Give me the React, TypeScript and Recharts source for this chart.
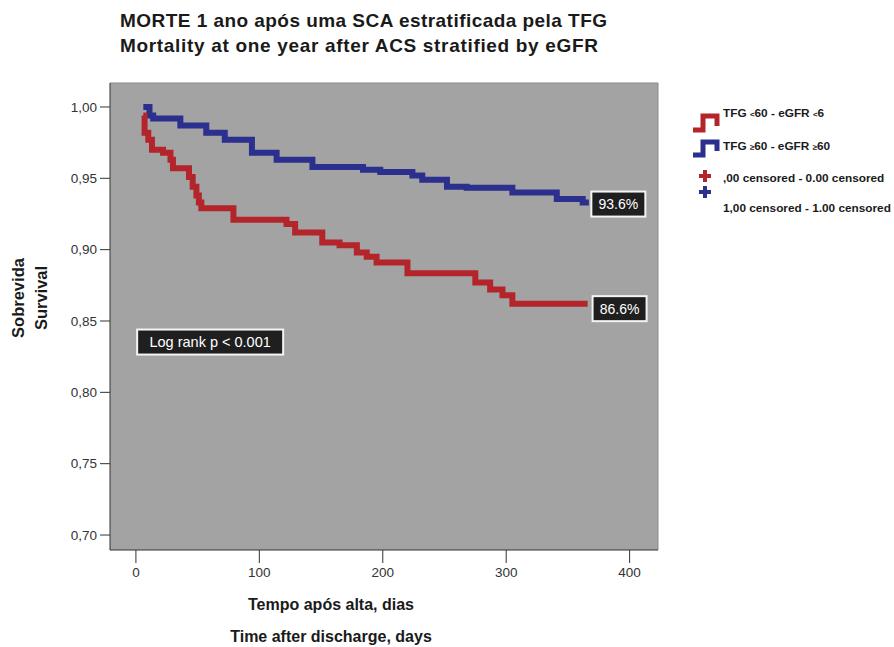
import React from 'react';
import { ComposedChart, Line, XAxis, YAxis, CartesianGrid, ReferenceDot, ReferenceLine } from 'recharts';

// Kaplan-Meier steps
const redDays = [6, 7, 10, 13, 22, 28, 30, 43, 46, 49, 51, 53, 79, 122, 129, 151, 165, 179, 187, 195, 220, 275, 287, 297, 305, 366];
const redSurv = [0.994, 0.982, 0.977, 0.970, 0.968, 0.963, 0.957, 0.951, 0.944, 0.938, 0.933, 0.929, 0.921, 0.918, 0.912, 0.905, 0.903, 0.898, 0.895, 0.891, 0.8835, 0.877, 0.872, 0.868, 0.862, 0.862];

const blueDays = [6, 11, 14, 36, 57, 72, 94, 114, 143, 184, 198, 224, 232, 252, 268, 305, 341, 362, 367];
const blueSurv = [1.0, 0.994, 0.992, 0.987, 0.982, 0.977, 0.968, 0.963, 0.958, 0.956, 0.9544, 0.952, 0.949, 0.944, 0.9433, 0.940, 0.9355, 0.933, 0.933];

const xTicks = [0, 100, 200, 300, 400];
const yTicks = [0.7, 0.75, 0.8, 0.85, 0.9, 0.95, 1.0];

const redData = redDays.map((t, i) => ({ t, s: redSurv[i] }));
const blueData = blueDays.map((t, i) => ({ t, s: blueSurv[i] }));

const RED = '#b3252b';
const BLUE = '#2b2f8e';
const FONT = '"Liberation Sans", Arial, sans-serif';

const X_DOMAIN: [number, number] = [-21, 423];
const Y_DOMAIN: [number, number] = [0.6895, 1.0168];

const boxShape = (label: string, w: number, fs: number) => (p: any) => (
  <g>
    <rect x={p.cx} y={p.cy - 12} width={w} height={25} fill="#1f1f1f" stroke="#f4f4f4" strokeWidth={2} />
    <text x={p.cx + w / 2} y={p.cy + 5.5} textAnchor="middle" fill="#fff" fontSize={fs} fontFamily={FONT}>
      {label}
    </text>
  </g>
);

const App = () => {
  return (
    <div style={{ position: 'absolute', left: 0, top: 0, width: 894, height: 647, background: '#fff' }}>
      <ComposedChart width={894} height={647} margin={{ top: 83, right: 236, left: 0, bottom: 0 }}>
        <CartesianGrid horizontal={false} vertical={false} fill="#a3a3a3" />
        <XAxis
          dataKey="t"
          type="number"
          domain={X_DOMAIN}
          ticks={xTicks}
          allowDataOverflow
          height={97}
          tickSize={13}
          tickMargin={4}
          stroke="#333"
          tick={{ fill: '#333', fontSize: 13.5, fontFamily: FONT }}
        />
        <YAxis
          type="number"
          domain={Y_DOMAIN}
          ticks={yTicks}
          allowDataOverflow
          width={110}
          tickSize={10}
          tickMargin={3}
          stroke="#333"
          tick={{ fill: '#333', fontSize: 13.5, fontFamily: FONT }}
          tickFormatter={(v: number) => v.toFixed(2).replace('.', ',')}
        />
        <ReferenceLine y={Y_DOMAIN[1]} stroke="#8a8a8a" strokeWidth={1} />
        <ReferenceLine x={X_DOMAIN[1]} stroke="#8a8a8a" strokeWidth={1} />
        <Line data={blueData} dataKey="s" type="stepAfter" stroke={BLUE} strokeWidth={6} dot={false} isAnimationActive={false} />
        <Line data={redData} dataKey="s" type="stepAfter" stroke={RED} strokeWidth={6} dot={false} isAnimationActive={false} />
        <ReferenceDot x={369} y={0.9323} r={0} shape={boxShape('93.6%', 54, 14)} />
        <ReferenceDot x={370} y={0.859} r={0} shape={boxShape('86.6%', 54, 14)} />
        <ReferenceDot x={1} y={0.8356} r={0} shape={boxShape('Log rank p < 0.001', 146, 14.5)} />
      </ComposedChart>

      <svg width={894} height={647} style={{ position: 'absolute', left: 0, top: 0, pointerEvents: 'none' }}>
        <g fontFamily={FONT} fontWeight="bold" fill="#1a1a1a">
          <text x={120} y={27} fontSize={19} textLength={487} lengthAdjust="spacing">MORTE 1 ano após uma SCA estratificada pela TFG</text>
          <text x={120} y={52} fontSize={19} textLength={478} lengthAdjust="spacing">Mortality at one year after ACS stratified by eGFR</text>

          <text transform="translate(24,298) rotate(-90)" textAnchor="middle" fontSize={16.5}>Sobrevida</text>
          <text transform="translate(47,298) rotate(-90)" textAnchor="middle" fontSize={16.5}>Survival</text>

          <text x={331} y={610} textAnchor="middle" fontSize={16}>Tempo após alta, dias</text>
          <text x={331} y={642} textAnchor="middle" fontSize={16}>Time after discharge, days</text>

          <path d="M693,130 H703 V116 H717 V126" fill="none" stroke={RED} strokeWidth={5} />
          <path d="M693,155 H703 V142 H717 V151" fill="none" stroke={BLUE} strokeWidth={5} />
          <path d="M705,170 V182 M699,176 H711" stroke={RED} strokeWidth={4} />
          <path d="M705,186 V198 M699,192 H711" stroke={BLUE} strokeWidth={4} />

          <text x={723} y={117} fontSize={11.8}>
            TFG <tspan fontSize={8}>&lt;</tspan>60 - eGFR <tspan fontSize={8}>&lt;</tspan>6
          </text>
          <text x={723} y={150} fontSize={11.8}>
            TFG <tspan fontSize={8}>≥</tspan>60 - eGFR <tspan fontSize={8}>≥</tspan>60
          </text>
          <text x={723} y={182} fontSize={11.8}>,00 censored - 0.00 censored</text>
          <text x={723} y={212} fontSize={11.8}>1,00 censored - 1.00 censored</text>
        </g>
      </svg>
    </div>
  );
};

export default App;
